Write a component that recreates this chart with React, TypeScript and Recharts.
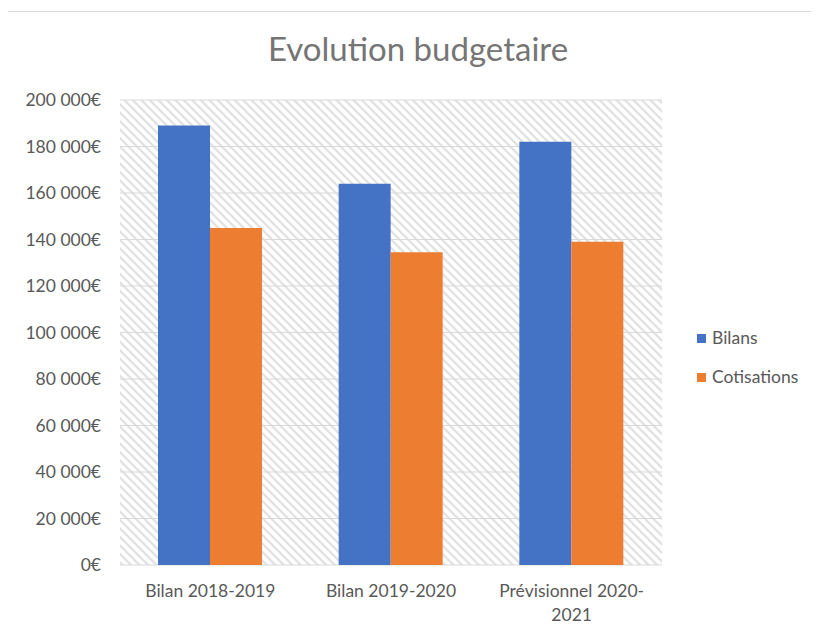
import React from "react";
import { Bar, BarChart, CartesianGrid, Legend, XAxis, YAxis } from "recharts";

const categories = ["Bilan 2018-2019", "Bilan 2019-2020", "Prévisionnel 2020-2021"];
const bilans = [189000, 164000, 182000];
const cotisations = [145000, 134500, 139000];
const yTicks = [0, 20000, 40000, 60000, 80000, 100000, 120000, 140000, 160000, 180000, 200000];

const seriesInfo = [
  { key: "Bilans", color: "#4472C4" },
  { key: "Cotisations", color: "#ED7D31" },
];

const chartData = categories.map((name, i) => ({
  name,
  Bilans: bilans[i],
  Cotisations: cotisations[i],
}));

const FONT = "Lato, 'Open Sans', sans-serif";
const TICK_SIZE = 17.5;

// 200000 -> "200 000€"
const formatEuro = (v: number) =>
  String(v).replace(/\B(?=(\d{3})+(?!\d))/g, " ") + "€";

// long labels wrap after the last hyphen, like Excel does
const CategoryTick = (props: any) => {
  const { x, y, payload } = props;
  const label: string = payload.value;
  let lines = [label];
  if (label.length > 16) {
    const cut = label.lastIndexOf("-") + 1;
    lines = [label.slice(0, cut), label.slice(cut)];
  }
  return (
    <g>
      {lines.map((line, i) => (
        <text
          key={i}
          x={x}
          y={y + 32 + i * 24}
          textAnchor="middle"
          fill="#595959"
          fontSize={TICK_SIZE}
          fontFamily={FONT}
        >
          {line}
        </text>
      ))}
    </g>
  );
};

const LegendBox = () => (
  <div style={{ fontFamily: FONT, fontSize: TICK_SIZE, color: "#595959" }}>
    {seriesInfo.map((s, i) => (
      <div
        key={s.key}
        style={{
          display: "flex",
          alignItems: "center",
          height: 20,
          lineHeight: "20px",
          marginBottom: i === 0 ? 19 : 0,
        }}
      >
        <span style={{ width: 9, height: 9, background: s.color, marginRight: 6 }} />
        <span>{s.key}</span>
      </div>
    ))}
  </div>
);

export default function App() {
  return (
    <div
      style={{
        position: "relative",
        width: 812,
        height: 627,
        marginTop: 3,
        marginLeft: -1,
        borderTop: "1px solid #d9d9d9",
        borderLeft: "1px solid #d9d9d9",
        boxSizing: "border-box",
        overflow: "hidden",
        fontFamily: FONT,
      }}
    >
      <div
        style={{
          position: "absolute",
          top: 18,
          left: 0,
          width: 820,
          textAlign: "center",
          fontSize: 33,
          color: "#757575",
          lineHeight: "36px",
          zIndex: 1,
        }}
      >
        Evolution budgetaire
      </div>
      <BarChart
        width={811}
        height={620}
        data={chartData}
        margin={{ top: 88, right: 157, left: 0, bottom: 7 }}
        barGap={0}
        barSize={52}
      >
        <defs>
          <pattern
            id="hatch"
            width="6"
            height="6"
            patternUnits="userSpaceOnUse"
            patternTransform="rotate(-45)"
          >
            <rect width="6" height="6" fill="#ffffff" />
            <line x1="2" y1="0" x2="2" y2="6" stroke="#e0e0e0" strokeWidth="2.2" />
          </pattern>
        </defs>
        <CartesianGrid
          vertical={false}
          stroke="#d9d9d9"
          fill="url(#hatch)"
          fillOpacity={1}
        />
        <XAxis
          dataKey="name"
          axisLine={false}
          tickLine={false}
          tickSize={0}
          tickMargin={0}
          height={60}
          interval={0}
          tick={<CategoryTick />}
        />
        <YAxis
          width={112}
          domain={[0, 200000]}
          ticks={yTicks}
          axisLine={false}
          tickLine={false}
          tickSize={0}
          tickMargin={19}
          tickFormatter={formatEuro}
          tick={{ fill: "#595959", fontSize: TICK_SIZE, fontFamily: FONT }}
        />
        <Legend
          layout="vertical"
          align="center"
          verticalAlign="middle"
          content={<LegendBox />}
          wrapperStyle={{ left: 689, top: 316, width: 130 }}
        />
        {seriesInfo.map((s) => (
          <Bar key={s.key} dataKey={s.key} fill={s.color} isAnimationActive={false} />
        ))}
      </BarChart>
    </div>
  );
}
